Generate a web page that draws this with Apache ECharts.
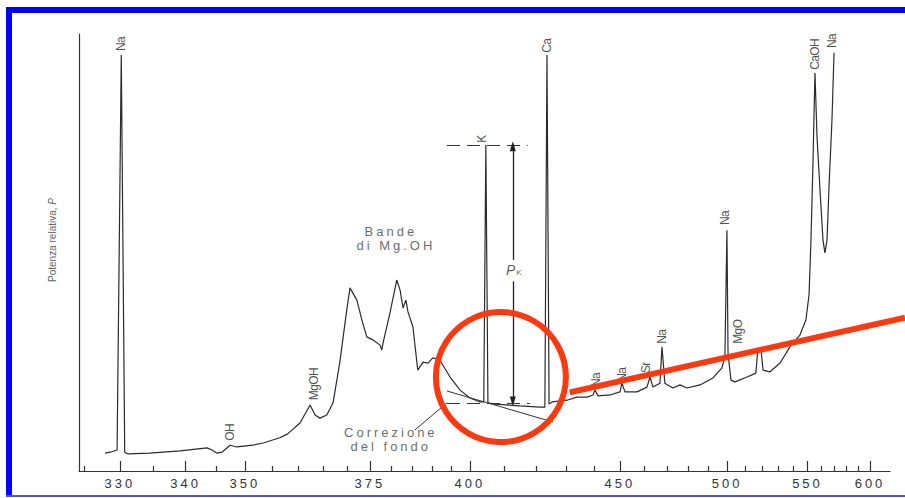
<!DOCTYPE html>
<html>
<head>
<meta charset="utf-8">
<script src="https://cdn.jsdelivr.net/npm/echarts@6/dist/echarts.min.js"></script>
<style>
html,body{margin:0;padding:0;background:#fff;}
#chart{width:905px;height:498px;}
#chart text[style*="Arial"]{letter-spacing:3px;}
#chart text[style*="Narrow"]{letter-spacing:-0.6px;}
</style>
</head>
<body>
<div id="chart"></div>
<script>
// ---- spectrum (wavelength in nm, relative power 0-100) ----
const wavelengthNm = [327.9, 328.6, 329.6, 330.2, 330.7, 331.2, 334.4, 339.1, 343.5, 344.3, 345.1, 346.0, 347.4, 348.6, 351.4, 353.3, 356.4, 357.9, 360.3, 362.3, 363.3, 364.3, 365.7, 367.0, 368.4, 369.9, 370.6, 372.1, 373.2, 374.3, 375.7, 377.3, 377.7, 378.0, 379.6, 381.2, 382.0, 382.7, 383.4, 383.9, 385.1, 386.3, 387.6, 388.9, 390.1, 391.9, 394.6, 397.3, 400.0, 402.8, 403.9, 404.5, 405.1, 407.1, 414.7, 421.1, 422.7, 423.4, 424.1, 425.1, 430.2, 433.7, 437.4, 439.6, 440.3, 441.5, 446.1, 450.0, 450.8, 452.0, 457.0, 461.2, 462.5, 463.8, 466.9, 467.8, 469.1, 472.8, 476.1, 479.4, 485.8, 492.5, 497.2, 498.8, 499.9, 500.5, 502.1, 504.3, 511.2, 516.4, 517.6, 519.5, 520.7, 525.0, 531.4, 537.9, 544.7, 548.9, 551.1, 552.5, 554.0, 554.7, 555.4, 556.9, 559.1, 561.3, 562.8, 564.4, 565.9, 568.2, 569.8];
const relativePower = [4.1, 4.3, 4.8, 95.2, 4.3, 3.9, 4.1, 4.6, 5.3, 4.8, 4.1, 4.3, 5.9, 5.5, 5.9, 6.4, 7.6, 8.5, 11.0, 15.1, 12.8, 12.1, 12.8, 15.6, 24.7, 36.8, 41.9, 39.1, 34.6, 30.7, 30.0, 28.8, 27.7, 29.3, 36.2, 43.7, 41.4, 37.3, 39.1, 36.4, 33.0, 23.1, 24.9, 24.7, 25.9, 25.4, 21.5, 18.5, 16.7, 15.8, 15.8, 74.6, 15.6, 15.3, 14.9, 14.6, 14.6, 95.2, 15.3, 15.8, 16.2, 16.9, 16.9, 17.4, 18.5, 17.2, 17.4, 18.1, 20.1, 18.1, 18.1, 19.2, 21.5, 19.2, 20.1, 28.4, 20.1, 19.0, 19.7, 19.0, 19.7, 21.3, 23.6, 26.1, 55.1, 27.0, 20.8, 20.4, 21.5, 22.4, 28.1, 27.7, 23.1, 22.7, 24.7, 28.4, 31.1, 34.6, 40.3, 52.9, 71.2, 81.5, 91.1, 76.4, 64.3, 52.9, 49.9, 52.9, 65.0, 80.3, 95.7];

// ---- axis ticks (nm) ----
const majorTickNm = [330, 340, 350, 375, 400, 450, 500, 550, 600];
const minorTickNm = [325, 335, 345, 355, 360, 365, 370, 380, 385, 390, 395, 410, 420, 430, 440, 460, 470, 480, 490, 510, 520, 530, 540, 560, 570, 580, 590];
const axisRangeNm = [324.3, 618.75];

// ---- peak labels ----
const peakLabelText = ['Na', 'OH', 'MgOH', 'K', 'Ca', 'Na', 'Na', 'Sr', 'Na', 'Na', 'MgO', 'CaOH', 'Na'];
const peakLabelNm = [330.2, 347.4, 363.1, 403.4, 423.4, 440.7, 450.8, 460.8, 467.8, 498.8, 506.0, 555.4, 568.6];
const peakLabelPower = [96.1, 6.9, 16.2, 75.1, 95.7, 19.2, 20.4, 22.4, 29.1, 56.3, 29.1, 91.8, 96.8];

// ---- annotation texts ----
const noteText = ['Bande', 'di Mg.OH', 'Correzione', 'del fondo', '{p|P}{k|K}'];
const noteNm = [379.8, 381.0, 379.8, 379.8, 412.8];
const notePower = [54.7, 51.5, 8.7, 5.5, 46.0];

// ---- background-correction construction ----
const kTopLineNm = [393.8, 417.2], kTopLinePower = [74.6, 74.6];
const baseLineNm = [393.8, 417.9], baseLinePower = [15.6, 15.6];
const tangentNm = [393.8, 425.4], tangentPower = [18.3, 11.2];
const leaderNm = [385.6, 393.8], leaderPower = [9.4, 15.6];
const arrowNm = 412.5, arrowUpperPower = [48.3, 74.3], arrowLowerPower = [43.4, 15.9];
const circleCenterNm = 408.9, circleCenterPower = 21.5;
const redLineNm = [431.2, 633.9], redLinePower = [18.0, 35.1];

// prism (Hartmann) dispersion scale: position is linear in 1/(lambda - 150 nm)
const HARTMANN_ORIGIN_NM = 150;
const toAxis = nm => -100000 / (nm - HARTMANN_ORIGIN_NM);
const fromAxis = u => HARTMANN_ORIGIN_NM - 100000 / u;

const narrowFont = "'Liberation Sans Narrow', 'Liberation Sans', sans-serif";
const textFont = "'Liberation Sans', Arial, sans-serif";
const titleFont = "'Liberation Sans', sans-serif";
const ink = '#2b2b2b';

const spectrum = wavelengthNm.map((nm, i) => [toAxis(nm), relativePower[i]]);
const peakLabels = peakLabelText.map((t, i) => ({ name: t, value: [toAxis(peakLabelNm[i]), peakLabelPower[i]] }));
const notes = noteText.map((t, i) => ({ name: t, value: [toAxis(noteNm[i]), notePower[i]] }));

const seg = (nmA, pA, nmB, pB, style, symA, symB) => [
  { coord: [toAxis(nmA), pA], lineStyle: style, symbol: symA || 'none', symbolSize: [6, 10] },
  { coord: [toAxis(nmB), pB], symbol: symB || 'none', symbolSize: [6, 10] }
];
const thin = { color: '#333', width: 1, type: 'solid' };
const dashed = { color: '#333', width: 1, type: [13, 7] };

const xMin = toAxis(axisRangeNm[0]), xMax = toAxis(axisRangeNm[1]);
const tickLine = { color: '#333', width: 1.2 };

const option = {
  animation: false,
  backgroundColor: '#fff',
  grid: { left: 79, right: 15, top: 34, bottom: 27 },
  xAxis: [
    {
      type: 'value', min: xMin, max: xMax, position: 'bottom',
      axisLine: { show: true, lineStyle: tickLine },
      axisTick: { show: true, inside: true, length: 10, customValues: majorTickNm.map(toAxis), lineStyle: tickLine },
      axisLabel: {
        show: true, customValues: majorTickNm.map(toAxis),
        formatter: v => String(Math.round(fromAxis(v))),
        margin: 6, color: '#333', fontSize: 13, fontFamily: textFont
      },
      splitLine: { show: false }
    },
    {
      type: 'value', min: xMin, max: xMax, position: 'bottom', offset: 0,
      axisLine: { show: false },
      axisTick: { show: true, inside: true, length: 5, customValues: minorTickNm.map(toAxis), lineStyle: tickLine },
      axisLabel: { show: false },
      splitLine: { show: false }
    }
  ],
  yAxis: {
    type: 'value', min: 0, max: 100,
    axisLine: { show: true, lineStyle: tickLine },
    axisTick: { show: false }, axisLabel: { show: false }, splitLine: { show: false },
    name: 'Potenza relativa, {i|P}', nameLocation: 'middle', nameGap: 22,
    nameTextStyle: {
      fontFamily: titleFont, fontSize: 10, color: '#666', padding: [0, 0, 0, 25],
      rich: { i: { fontFamily: titleFont, fontSize: 10, color: '#666', fontStyle: 'italic' } }
    }
  },
  series: [
    {
      name: 'spectrum', type: 'line', xAxisIndex: 0, data: spectrum,
      showSymbol: false, symbol: 'none', silent: true, z: 3,
      lineStyle: { color: ink, width: 1.2 },
      markLine: {
        silent: true, animation: false, label: { show: false },
        emphasis: { disabled: true },
        data: [
          seg(kTopLineNm[0], kTopLinePower[0], kTopLineNm[1], kTopLinePower[1], dashed),
          seg(baseLineNm[0], baseLinePower[0], baseLineNm[1], baseLinePower[1], dashed),
          seg(tangentNm[0], tangentPower[0], tangentNm[1], tangentPower[1], thin),
          seg(leaderNm[0], leaderPower[0], leaderNm[1], leaderPower[1], thin),
          seg(arrowNm, arrowUpperPower[0], arrowNm, arrowUpperPower[1], { color: '#222', width: 1.3, type: 'solid' }, 'none', 'triangle'),
          seg(arrowNm, arrowLowerPower[0], arrowNm, arrowLowerPower[1], { color: '#222', width: 1.3, type: 'solid' }, 'none', 'triangle')
        ]
      }
    },
    {
      name: 'peak labels', type: 'scatter', xAxisIndex: 0, data: peakLabels,
      symbolSize: 1, itemStyle: { color: 'rgba(0,0,0,0)' }, silent: true, z: 5,
      label: {
        show: true, formatter: '{b}', position: 'inside', rotate: 90,
        align: 'left', verticalAlign: 'middle',
        fontFamily: narrowFont, fontSize: 12, color: '#222'
      }
    },
    {
      name: 'notes', type: 'scatter', xAxisIndex: 0, data: notes,
      symbolSize: 1, itemStyle: { color: 'rgba(0,0,0,0)' }, silent: true, z: 5,
      label: {
        show: true, formatter: '{b}', position: 'inside',
        align: 'center', verticalAlign: 'middle',
        fontFamily: textFont, fontSize: 13, color: '#444',
        rich: {
          p: { fontFamily: titleFont, fontSize: 14, fontStyle: 'italic', color: '#333' },
          k: { fontFamily: titleFont, fontSize: 8, color: '#333', padding: [6, 0, 0, 1] }
        }
      }
    }
  ]
};

const chart = echarts.init(document.getElementById('chart'), null, { renderer: 'svg' });
chart.setOption(option);

const px = (nm, p) => chart.convertToPixel({ xAxisIndex: 0, yAxisIndex: 0 }, [toAxis(nm), p]);
const c = px(circleCenterNm, circleCenterPower);
const r0 = px(redLineNm[0], redLinePower[0]);
const r1 = px(redLineNm[1], redLinePower[1]);
const red = '#fb3a12';

chart.setOption({
  graphic: [
    { type: 'rect', z: 200, silent: true, shape: { x: 6, y: 7, width: 899, height: 6 }, style: { fill: '#0000ff' } },
    { type: 'rect', z: 200, silent: true, shape: { x: 6, y: 7, width: 6, height: 490 }, style: { fill: '#0000ff' } },
    { type: 'rect', z: 200, silent: true, shape: { x: 6, y: 495, width: 899, height: 2 }, style: { fill: '#4a58e0' } },
    { type: 'circle', z: 150, silent: true, shape: { cx: c[0], cy: c[1], r: 65 }, style: { fill: 'none', stroke: red, lineWidth: 6 } },
    { type: 'line', z: 150, silent: true, shape: { x1: r0[0], y1: r0[1], x2: r1[0], y2: r1[1] }, style: { stroke: red, lineWidth: 6 } }
  ]
});
</script>
</body>
</html>
